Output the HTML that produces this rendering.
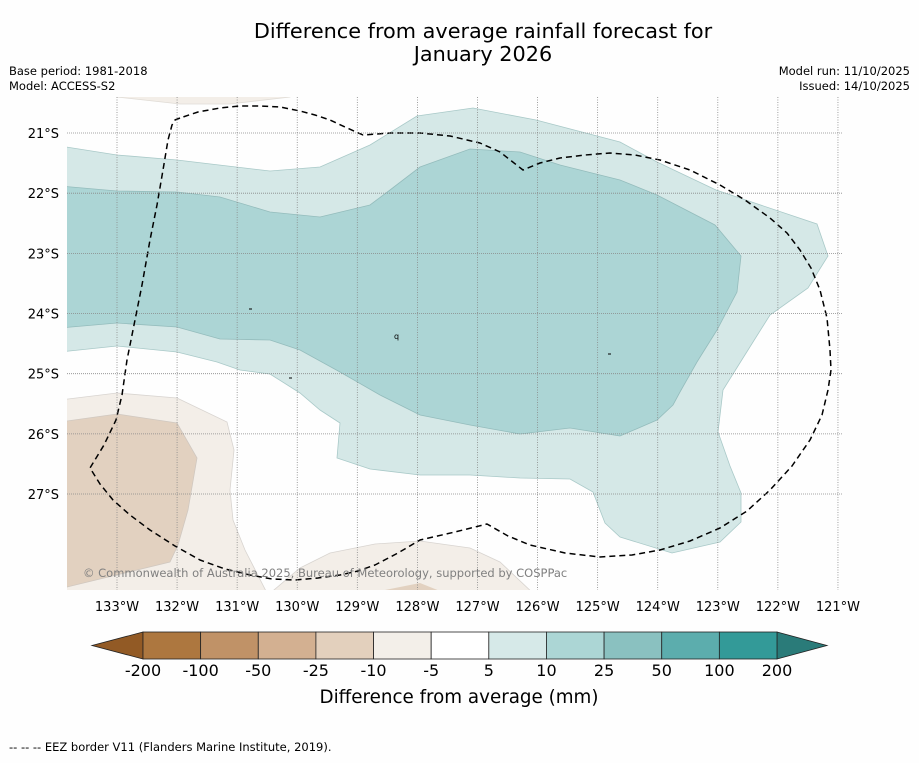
<!DOCTYPE html>
<html><head><meta charset="utf-8"><style>
body{margin:0;background:#fefefe;width:919px;height:758px;overflow:hidden;font-family:"Liberation Sans","DejaVu Sans",sans-serif;}
svg text{font-family:"DejaVu Sans","Liberation Sans",sans-serif;}
</style></head><body>
<svg id="chart" width="919" height="758" xmlns="http://www.w3.org/2000/svg">
<rect width="919" height="758" fill="#fefefe"/>
<text x="483" y="38" font-size="20.8" text-anchor="middle" fill="#000">Difference from average rainfall forecast for</text>
<text x="483" y="61" font-size="20.8" text-anchor="middle" fill="#000">January 2026</text>
<text x="9" y="75" font-size="11.5">Base period: 1981-2018</text>
<text x="9" y="90" font-size="11.5">Model: ACCESS-S2</text>
<text x="910" y="75" font-size="11.5" text-anchor="end">Model run: 11/10/2025</text>
<text x="910" y="90" font-size="11.5" text-anchor="end">Issued: 14/10/2025</text>
<defs><clipPath id="mapclip"><rect x="67" y="97" width="776" height="493"/></clipPath></defs>
<g id="map" clip-path="url(#mapclip)"></g>
<g id="grid"></g>
<g id="axes"></g>
<text x="83" y="577" font-size="11.5" fill="#808080">© Commonwealth of Australia 2025, Bureau of Meteorology, supported by COSPPac</text>
<g id="cbar"></g>
<text x="459" y="703" font-size="18.3" text-anchor="middle">Difference from average (mm)</text>
<text x="9" y="751" font-size="11.5">--  --  -- EEZ border V11 (Flanders Marine Institute, 2019).</text>
</svg>
<script>
// axis ticks
const lonTicks = [133,132,131,130,129,128,127,126,125,124,123,122,121];
const latTicks = [21,22,23,24,25,26,27];
const cbarLevels = ["-200","-100","-50","-25","-10","-5","5","10","25","50","100","200"];
const cbarColors = ["#ad773f","#c09267","#d3b091","#e3d0bd","#f3efe9","#ffffff","#d6e9e8","#acd6d5","#8ac1c0","#5cadad","#339a98"];
// contour polygons (pixel-traced, expressed in lon W / lat S)
function L(px){return 133-(px-117)/60.08;}
function A(py){return 21+(py-133)/60.17;}
function poly(pts){return pts.map(p=>[L(p[0]),A(p[1])]);}
const tealLight = poly([[60,146],[117,155],[177,160],[270,171],[320,167],[370,145],[417,116],[473,108],[536,120],[620,142],[657,162],[716,190],[817,224],[828,256],[808,288],[770,315],[743,358],[723,390],[718,432],[730,466],[741,493],[741,522],[720,542],[672,553],[620,537],[605,523],[593,492],[570,479],[520,478],[470,475],[420,475],[370,469],[337,458],[340,423],[320,410],[300,393],[270,374],[240,370],[217,362],[177,352],[117,346],[60,352]]);
const tealDark = poly([[60,186],[117,191],[177,192],[220,197],[270,212],[320,217],[370,205],[390,190],[420,167],[470,149],[520,152],[560,165],[620,180],[657,195],[715,225],[741,256],[737,292],[717,330],[697,362],[680,392],[673,405],[657,420],[620,436],[570,428],[520,434],[470,425],[420,415],[380,395],[340,372],[300,350],[270,340],[220,339],[177,327],[117,323],[60,328]]);
const tanLight = poly([[60,400],[117,393],[177,398],[227,422],[234,450],[230,490],[233,520],[245,550],[268,595],[60,595]]);
const tanDark = poly([[60,422],[117,414],[177,423],[197,458],[188,510],[178,545],[170,562],[67,587],[60,587]]);
const tanBottom = poly([[268,595],[300,568],[330,553],[375,544],[420,541],[470,548],[500,562],[535,595]]);
const tanBottomDark = poly([[360,595],[420,583],[450,595]]);
const tanTop = poly([[117,92],[117,97],[180,104],[230,104],[290,97],[290,92]]);
const eez = poly([[180,118],[175,120],[172,125],[168,140],[163,170],[157,205],[150,240],[142,285],[134,325],[127,360],[122,395],[116,420],[104,445],[90,468],[100,484],[113,500],[130,515],[150,530],[175,546],[200,560],[225,569],[250,575],[272,579],[295,580],[318,578],[340,575],[358,571],[375,565],[398,553],[420,540],[455,532],[487,524],[508,536],[530,545],[565,553],[600,557],[632,555],[660,550],[690,541],[720,528],[747,511],[770,490],[792,466],[810,440],[822,415],[828,390],[831,370],[830,350],[827,318],[820,290],[811,268],[800,250],[787,233],[770,218],[745,200],[720,185],[690,170],[660,160],[635,155],[610,153],[585,155],[560,158],[540,163],[523,170],[500,152],[480,143],[450,136],[420,133],[390,133],[363,135],[345,127],[330,120],[315,115],[300,111],[280,107],[260,106],[240,106],[220,108],[198,112],[180,118]]);

const X = lon => 117 + (133 - lon) * 60.08;
const Y = lat => 133 + (lat - 21) * 60.17;
const NS = "http://www.w3.org/2000/svg";
function mk(tag, attrs, parent){const e=document.createElementNS(NS,tag);for(const k in attrs)e.setAttribute(k,attrs[k]);parent.appendChild(e);return e;}
const map = document.getElementById('map');
function drawPoly(pts, fill, name, stroke){
  const d = pts.map((p,i)=>(i?'L':'M')+X(p[0]).toFixed(1)+','+Y(p[1]).toFixed(1)).join('')+'Z';
  const e = mk('path',{d:d,fill:fill,stroke:stroke||'none','stroke-width':0.8},map);
  
  
}
drawPoly(tanTop,'#f3eee8','contour-tan-top','#e0dcd6');
drawPoly(tanLight,'#f3eee8','contour-dry-light','#d8d4d0');
drawPoly(tanDark,'#e2d1c0','contour-dry-dark','#d0c8c0');
drawPoly(tanBottom,'#f3eee8','contour-dry-bottom','#d8d4d0');
drawPoly(tanBottomDark,'#e2d1c0','contour-dry-bottom-dark');
drawPoly(tealLight,'#d5e8e7','contour-wet-light','#a9c9c8');
drawPoly(tealDark,'#acd5d5','contour-wet-dark','#94bcbc');
const eezPath = mk('path',{d:eez.map((p,i)=>(i?'L':'M')+X(p[0]).toFixed(1)+','+Y(p[1]).toFixed(1)).join(''),fill:'none',stroke:'#000','stroke-width':1.5,'stroke-dasharray':'6,4','stroke-linejoin':'round'},map);


mk('line',{x1:249,y1:309,x2:252,y2:309,stroke:'#000'},map);
mk('line',{x1:289,y1:378,x2:292,y2:378,stroke:'#000'},map);
mk('line',{x1:608,y1:354,x2:611,y2:354,stroke:'#000'},map);
mk('text',{x:394,y:339,'font-size':8},map).textContent='q';

const grid = document.getElementById('grid');
const gax = document.getElementById('axes');
lonTicks.forEach(lon=>{
  const x = X(lon);
  const l = mk('line',{x1:x,y1:97,x2:x,y2:590,stroke:'#888','stroke-width':0.8,'stroke-dasharray':'1,1.5'},grid);
  
  
  const t = mk('text',{x:x,y:611,'font-size':13,'text-anchor':'middle'},gax);
  
  
  t.textContent = lon+'°W';
});
latTicks.forEach(lat=>{
  const y = Y(lat);
  const l = mk('line',{x1:67,y1:y,x2:843,y2:y,stroke:'#888','stroke-width':0.8,'stroke-dasharray':'1,1'},grid);
  
  
  const t = mk('text',{x:59,y:y+5,'font-size':13,'text-anchor':'end'},gax);
  
  
  t.textContent = lat+'°S';
});

const cb = document.getElementById('cbar');
const cx0=143, cx1=777, cy0=632, cy1=659, n=cbarColors.length, w=(cx1-cx0)/n;
const lt = mk('polygon',{points:`${cx0},${cy0} 92,${(cy0+cy1)/2} ${cx0},${cy1}`,fill:'#925a25',stroke:'#222','stroke-width':0.8},cb);


const rt = mk('polygon',{points:`${cx1},${cy0} 827,${(cy0+cy1)/2} ${cx1},${cy1}`,fill:'#2a7b79',stroke:'#222','stroke-width':0.8},cb);


cbarColors.forEach((c,i)=>{
  const r = mk('rect',{x:cx0+i*w,y:cy0,width:w,height:cy1-cy0,fill:c,stroke:'#222','stroke-width':0.8},cb);
  
  
});
cbarLevels.forEach((s,i)=>{
  const t = mk('text',{x:cx0+i*w,y:676,'font-size':16,'text-anchor':'middle'},cb);
  
  
  t.textContent = s;
});
</script>
</body></html>
